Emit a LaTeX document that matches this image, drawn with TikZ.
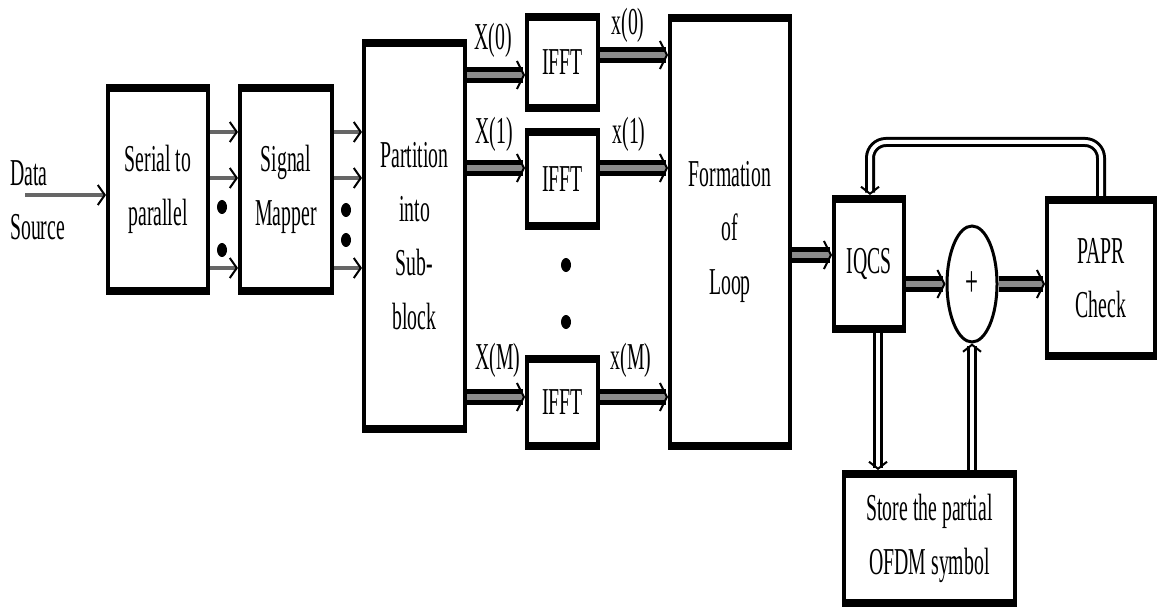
\documentclass[tikz,border=0pt]{standalone}
\usepackage{fontspec}
\setmainfont{Liberation Serif}[FakeStretch=0.52]
\usetikzlibrary{arrows.meta,shapes.geometric}
\newcommand\dfont{\fontsize{38}{54}\selectfont}
\begin{document}
\begin{tikzpicture}[x=1pt,y=-1pt,
  blk/.style={draw, line width=4pt, inner sep=0pt, align=center, font=\dfont, fill=white,
    path picture={\fill[black] (path picture bounding box.north west) rectangle ([yshift=-6pt]path picture bounding box.north east);
                  \fill[black] (path picture bounding box.south west) rectangle ([yshift=6pt]path picture bounding box.south east);}},
  lbl/.style={inner sep=0pt, font=\dfont},
  dot/.style={ellipse, fill=black, inner sep=0pt, minimum width=10pt, minimum height=14pt},
  sarrow/.style={draw=black!60, line width=3.5pt, -{Straight Barb[length=7pt,width=20pt,line width=2pt,color=black]}},
  darrow/.style={draw=black, double=black!45, line width=5pt, double distance=6pt,
    -{Straight Barb[length=7pt,width=28pt,line width=2pt]}},
  warrow/.style={draw=black, double=white, line width=3pt, double distance=4pt,
    -{Straight Barb[length=7pt,width=18pt,line width=2pt]}}
]
\useasboundingbox (0,0) rectangle (1161,612);

% boxes
\node[blk, minimum width=100pt, minimum height=207pt] (sp) at (158,189.5) {Serial to\\parallel};
\node[blk, minimum width=92pt, minimum height=207pt] (sm) at (286,189.5) {Signal\\Mapper};
\node[blk, minimum width=101pt, minimum height=390pt] (part) at (414.5,236) {Partition\\into\\Sub-\\block};
\node[blk, minimum width=71pt, minimum height=95pt] (f0) at (562.5,62.5) {IFFT};
\node[blk, minimum width=71pt, minimum height=98pt] (f1) at (562.5,179) {IFFT};
\node[blk, minimum width=71pt, minimum height=91pt] (fm) at (562.5,402.5) {IFFT};
\node[blk, minimum width=120pt, minimum height=432pt] (form) at (730,232) {Formation\\of\\Loop};
\node[blk, minimum width=70pt, minimum height=134pt] (iqcs) at (869,264) {IQCS};
\node[blk, minimum width=108pt, minimum height=160pt] (papr) at (1101,278) {PAPR\\Check};
\node[blk, minimum width=171pt, minimum height=133pt] (store) at (929.5,538.5) {Store the partial\\OFDM symbol};
\node[ellipse, draw, line width=3pt, fill=white, inner sep=0pt, minimum width=50pt, minimum height=116pt, font=\fontsize{44}{50}\selectfont] (plus) at (972,284) {+};

% source text
\node[lbl, align=left, anchor=west] (src) at (10,200) {Data\\Source};
\coordinate (ds) at (25,195);
\draw[sarrow] (ds) -- (sp.west |- ds);

% parallel arrows
\foreach \y in {132,178,268} {
  \draw[sarrow] (sp.east |- 0,\y) -- (sm.west |- 0,\y);
  \draw[sarrow] (sm.east |- 0,\y) -- (part.west |- 0,\y);
}
\node[dot] (d1) at (222,207) {};
\node[dot] (d2) at (222,250) {};
\node[dot] (d3) at (346,210) {};
\node[dot] (d4) at (346,240) {};
\node[dot] (d5) at (566,265) {};
\node[dot] (d6) at (566,322) {};

% partition to IFFT
\draw[darrow] (part.east |- 0,75) -- (f0.west |- 0,75);
\draw[darrow] (part.east |- 0,168) -- (f1.west |- 0,168);
\draw[darrow] (part.east |- 0,397) -- (fm.west |- 0,397);
\draw[darrow] (f0.east |- 0,55) -- (form.west |- 0,55);
\draw[darrow] (f1.east |- 0,168) -- (form.west |- 0,168);
\draw[darrow] (fm.east |- 0,397) -- (form.west |- 0,397);

\node[lbl] (lX0) at (493,40) {X(0)};
\node[lbl] (lX1) at (494,134) {X(1)};
\node[lbl] (lXM) at (498,360) {X(M)};
\node[lbl] (lx0) at (628,25) {x(0)};
\node[lbl] (lx1) at (629,134) {x(1)};
\node[lbl] (lxM) at (631,360) {x(M)};

% right part
\draw[darrow] (form.east |- 0,255) -- (iqcs.west |- 0,255);
\draw[darrow] (iqcs.east |- plus.west) -- (plus.west);
\draw[darrow] (plus.east) -- (papr.west |- plus.east);
\draw[warrow, rounded corners=16pt] (papr.north) -- (papr.north |- 0,142) -- (870,142) -- (870,0 |- iqcs.north);
\draw[warrow] (878,0 |- iqcs.south) -- (878,0 |- store.north);
\draw[warrow] (plus.south |- store.north) -- (plus.south);
\end{tikzpicture}
\end{document}
